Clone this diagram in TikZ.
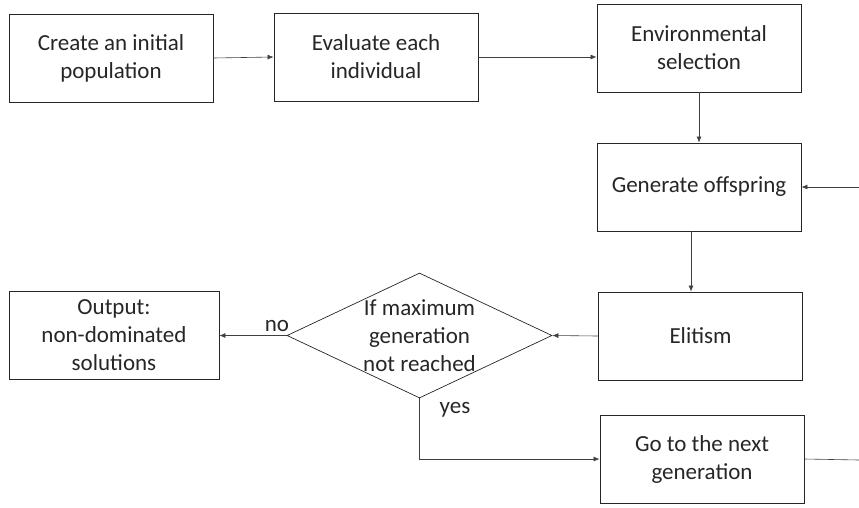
\documentclass[tikz,border=0pt]{standalone}
\usepackage{fontspec}
\setmainfont{Carlito}
\usepackage{tikz}
\usetikzlibrary{arrows.meta,calc,shapes.geometric}

\begin{document}
\begin{tikzpicture}[>={Latex[length=6pt,width=5pt]}, x=1pt, y=-1pt,
		every node/.style={text=black!85, font=\fontsize{23}{28}\selectfont},
		stepbox/.style={draw=black!85, line width=0.9pt, minimum width=204pt, minimum height=88pt, inner sep=0pt, align=center},
		link/.style={draw=black!75, line width=0.6pt}]
			\useasboundingbox (0,0) rectangle (859,507);
			\node[stepbox] (init) at (111,58) {Create an initial\\population};
			\node[stepbox] (eval) at (376,57) {Evaluate each\\individual};
			\node[stepbox] (envsel) at (699,48) {Environmental\\selection};
			\node[stepbox] (gen) at (699,187) {Generate offspring};
			\node[stepbox] (elit) at (700.5,336) {Elitism};
			\node[diamond, draw=black!85, line width=0.7pt, minimum width=265pt, minimum height=125pt, inner sep=0pt] (check) at (419.5,335.5) {};
			\node[align=center] (checktext) at (check.center) {If maximum\\generation\\not reached};
			\node[stepbox, minimum width=210pt] (output) at (114,335.5) {Output:\\non-dominated\\solutions};
			\node[stepbox] (next) at (702,459) {Go to the next\\generation};
			\coordinate (back) at (859,187);
			\coordinate (loop) at (859,460);
			\draw[link,->] (init.east) -- (eval.west);
			\draw[link,->] (eval.east) -- (envsel.west |- eval.east);
			\draw[link,->] (envsel.south) -- (gen.north);
			\draw[link,->] (back) -- (gen.east);
			\draw[link,->] ([xshift=-8pt]gen.south) -- ([xshift=-8pt]gen.south |- elit.north);
			\draw[link,->] (elit.west) -- (check.east);
			\draw[link,->] (check.west) -- (output.east);
			\draw[link,->] (check.south) |- (next.west);
			\draw[link] (next.east) -- (loop);
			\node (no) at (277,326) {no};
			\node (yes) at (455,410) {yes};
		\end{tikzpicture}
\end{document}
